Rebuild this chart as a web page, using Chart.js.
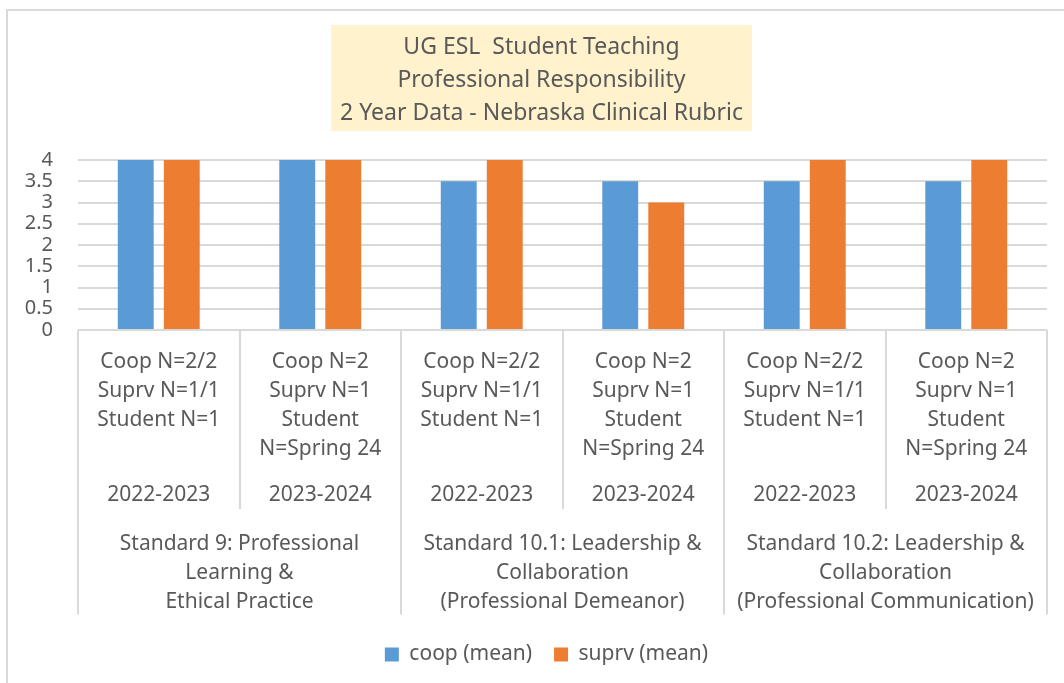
<!DOCTYPE html>
<html>
<head>
<meta charset="utf-8">
<script src="https://cdn.jsdelivr.net/npm/chart.js@4/dist/chart.umd.min.js"></script>
<style>
  html, body { margin: 0; padding: 0; background: #fff; }
  #wrap { position: relative; width: 1064px; height: 683px; }
  #frame { position: absolute; left: 6px; top: 9px; right: 0; bottom: 0;
           border-left: 2px solid #d9d9d9; border-top: 2px solid #d9d9d9; pointer-events: none; }
  canvas { position: absolute; left: 0; top: 0; }
</style>
</head>
<body>
<div id="wrap">
  <canvas id="chart" width="1064" height="683"></canvas>
  <div id="frame"></div>
</div>
<script>
// data
const titleLines = ["UG ESL  Student Teaching", "Professional Responsibility", "2 Year Data - Nebraska Clinical Rubric"]

const detailLabels = [
    ["Coop N=2/2", "Suprv N=1/1", "Student N=1"],
    ["Coop N=2", "Suprv N=1", "Student", "N=Spring 24"],
    ["Coop N=2/2", "Suprv N=1/1", "Student N=1"],
    ["Coop N=2", "Suprv N=1", "Student", "N=Spring 24"],
    ["Coop N=2/2", "Suprv N=1/1", "Student N=1"],
    ["Coop N=2", "Suprv N=1", "Student", "N=Spring 24"]
]
const yearLabels = ["2022-2023", "2023-2024", "2022-2023", "2023-2024", "2022-2023", "2023-2024"]
const standardLabels = [
    ["Standard 9: Professional", "Learning &", "Ethical Practice"],
    ["Standard 10.1: Leadership &", "Collaboration", "(Professional Demeanor)"],
    ["Standard 10.2: Leadership &", "Collaboration", "(Professional Communication)"]
]

const coopMean = [4, 4, 3.5, 3.5, 3.5, 3.5]
const suprvMean = [4, 4, 4, 3, 4, 4]

const yMin = 0
const yMax = 4
const yStep = 0.5

const textColor = '#595959'
const lineColor = '#d9d9d9'
const fontFamily = "'Noto Sans', 'Open Sans', sans-serif"

Chart.defaults.font.family = fontFamily
Chart.defaults.color = textColor

// cream box behind the title + shift title/legend like the original
const titleBox = {
    id: 'titleBox',
    afterLayout(chart) {
        chart.titleBlock.left += 18
        chart.titleBlock.right += 18
        chart.legend.left += 23
        chart.legend.right += 23
    },
    beforeDraw(chart) {
        const ctx = chart.ctx
        const tb = chart.titleBlock
        ctx.save()
        ctx.font = '23px ' + fontFamily
        let w = 0
        titleLines.forEach(t => { w = Math.max(w, ctx.measureText(t).width) })
        const cx = (tb.left + tb.right) / 2
        const top = tb.top + 25
        ctx.fillStyle = '#FFF2CC'
        ctx.fillRect(cx - w / 2 - 9, top, w + 18, 106)
        ctx.restore()
    }
}

// divider lines of the multi-level category axis
const axisTable = {
    id: 'axisTable',
    afterDraw(chart) {
        const ctx = chart.ctx
        const x = chart.scales.x
        const xYear = chart.scales.xYear
        const xStd = chart.scales.xStd
        const n = detailLabels.length
        const step = x.width / n
        ctx.save()
        ctx.strokeStyle = lineColor
        ctx.lineWidth = 2
        for (let k = 0; k <= n; k++) {
            const px = Math.round(x.left + k * step)
            const bottom = (k % 2 == 0) ? xStd.top + 105.5 : xYear.bottom
            ctx.beginPath()
            ctx.moveTo(px, x.top)
            ctx.lineTo(px, bottom)
            ctx.stroke()
        }
        ctx.restore()
    }
}

const ctx = document.getElementById('chart')

const chart = new Chart(ctx, {
    type: 'bar',
    data: {
        labels: detailLabels,
        datasets: [{
            label: 'coop (mean)',
            data: coopMean,
            backgroundColor: '#5B9BD5',
            xAxisID: 'x'
        },
        {
            label: 'suprv (mean)',
            data: suprvMean,
            backgroundColor: '#ED7D31',
            xAxisID: 'x'
        }]
    },
    options: {
        responsive: false,
        animation: false,
        categoryPercentage: 0.57,
        barPercentage: 0.78,
        layout: {
            padding: { left: 0, right: 17, top: 0, bottom: 8 }
        },
        scales: {
            x: {
                position: 'bottom',
                weight: 0,
                grid: { display: false, drawTicks: false },
                border: { display: false },
                ticks: {
                    autoSkip: false, maxRotation: 0, padding: 17.5,
                    font: { size: 21, lineHeight: '29px' }, color: textColor
                },
                afterFit: s => { s.height = 147 }
            },
            xYear: {
                type: 'category',
                labels: yearLabels,
                position: 'bottom',
                weight: 1,
                offset: true,
                grid: { display: false, drawTicks: false },
                border: { display: false },
                ticks: {
                    autoSkip: false, maxRotation: 0, padding: 3.5,
                    font: { size: 21, lineHeight: '29px' }, color: textColor
                },
                afterFit: s => { s.height = 32 }
            },
            xStd: {
                type: 'category',
                labels: standardLabels,
                position: 'bottom',
                weight: 2,
                offset: true,
                grid: { display: false, drawTicks: false },
                border: { display: false },
                ticks: {
                    autoSkip: false, maxRotation: 0, padding: 20.5,
                    font: { size: 21, lineHeight: '29px' }, color: textColor
                },
                afterFit: s => { s.height = 113 }
            },
            y: {
                min: yMin,
                max: yMax,
                grid: { color: lineColor, lineWidth: 2, drawTicks: false },
                border: { display: false },
                ticks: {
                    stepSize: yStep,
                    autoSkip: false,
                    padding: 25,
                    font: { size: 20 }, color: textColor,
                    callback: v => String(v)
                },
                afterFit: s => { s.width = 78 }
            }
        },
        plugins: {
            title: {
                display: true,
                text: titleLines,
                color: textColor,
                font: { size: 23, weight: 'normal', lineHeight: '33px' },
                padding: { top: 30.5, bottom: 30.5 }
            },
            legend: {
                display: true,
                position: 'bottom',
                labels: {
                    boxWidth: 14,
                    boxHeight: 14,
                    padding: 22,
                    color: textColor,
                    font: { size: 21 }
                }
            },
            tooltip: { enabled: false }
        }
    },
    plugins: [titleBox, axisTable]
})
</script>
</body>
</html>
